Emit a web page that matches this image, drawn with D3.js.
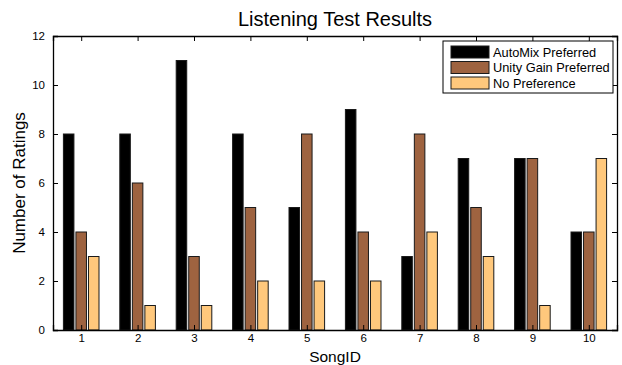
<!DOCTYPE html>
<html>
<head>
<meta charset="utf-8">
<script src="https://cdn.jsdelivr.net/npm/d3@7"></script>
<style>
    body { margin: 0; background: #fff; }
    svg { font-family: "Liberation Sans", Arial, Helvetica, sans-serif; }
</style>
</head>
<body>
<svg id="chart" width="622" height="365"></svg>
<script>
// data
let songs = [1, 2, 3, 4, 5, 6, 7, 8, 9, 10];
let automix = [8, 8, 11, 8, 5, 9, 3, 7, 7, 4];
let unity = [4, 6, 3, 5, 8, 4, 8, 5, 7, 4];
let noPref = [3, 1, 1, 2, 2, 2, 4, 3, 1, 7];
let seriesNames = ["AutoMix Preferred", "Unity Gain Preferred", "No Preference"];
let seriesColors = ["#000000", "#9e6340", "#ffc87c"];
let yTicks = [0, 2, 4, 6, 8, 10, 12];

let margin = { top: 36, right: 5, bottom: 35, left: 53 };

let svg = d3.select("#chart");
let width = +svg.attr("width") - margin.left - margin.right;
let height = +svg.attr("height") - margin.top - margin.bottom;
let g = svg.append("g").attr("transform", `translate(${margin.left}, ${margin.top})`);

let x = d3.scaleLinear().domain([0.5, 10.5]).range([0, width]);
let y = d3.scaleLinear().domain([0, 12]).range([height, 0]);

let series = [automix, unity, noPref];
let step = 2 / 9;           // spacing between bars in a group, in x units
let barW = x(step * 0.84) - x(0);

series.forEach((vals, si) => {
    g.selectAll(".bar" + si)
        .data(vals)
        .enter().append("rect")
            .attr("class", "bar" + si)
            .attr("x", (d, i) => x(songs[i] + (si - 1) * step) - barW / 2)
            .attr("y", d => y(d))
            .attr("width", barW)
            .attr("height", d => y(0) - y(d))
            .attr("fill", seriesColors[si])
            .attr("stroke", "#1a1a1a")
            .attr("stroke-width", 1);
});

// axes, ticks pointing inward, box on
let xb = g.append("g")
    .attr("transform", `translate(0, ${height})`)
    .call(d3.axisBottom(x).tickValues(songs).tickSize(-5).tickPadding(4));
let xt = g.append("g")
    .call(d3.axisTop(x).tickValues(songs).tickSize(-5).tickFormat(""));
let yl = g.append("g")
    .call(d3.axisLeft(y).tickValues(yTicks).tickSize(-5).tickPadding(8));
let yr = g.append("g")
    .attr("transform", `translate(${width}, 0)`)
    .call(d3.axisRight(y).tickValues(yTicks).tickSize(-5).tickFormat(""));

[xb, xt, yl, yr].forEach(a => {
    a.select(".domain").attr("stroke", "#000").attr("stroke-width", 1.3);
    a.selectAll(".tick line").attr("stroke", "#000");
    a.selectAll("text")
        .attr("fill", "#000")
        .attr("font-size", "11.5px")
        .attr("font-family", "Liberation Sans, Arial, sans-serif");
});

// title and axis labels
svg.append("text")
    .attr("x", margin.left + width / 2)
    .attr("y", 26)
    .attr("text-anchor", "middle")
    .attr("font-size", "20px")
    .text("Listening Test Results");

svg.append("text")
    .attr("x", margin.left + width / 2)
    .attr("y", 361.5)
    .attr("text-anchor", "middle")
    .attr("font-size", "15.5px")
    .text("SongID");

svg.append("text")
    .attr("transform", `translate(25, ${margin.top + height / 2}) rotate(-90)`)
    .attr("text-anchor", "middle")
    .attr("font-size", "17px")
    .text("Number of Ratings");

// legend
let lg = svg.append("g").attr("transform", "translate(443, 41)");
lg.append("rect")
    .attr("width", 170)
    .attr("height", 52)
    .attr("fill", "#fff")
    .attr("stroke", "#000")
    .attr("stroke-width", 1);

seriesNames.forEach((name, i) => {
    lg.append("rect")
        .attr("x", 8)
        .attr("y", 5 + i * 15.5)
        .attr("width", 38)
        .attr("height", 12)
        .attr("fill", seriesColors[i])
        .attr("stroke", "#1a1a1a");
    lg.append("text")
        .attr("x", 50)
        .attr("y", 15.5 + i * 15.5)
        .attr("font-size", "12.8px")
        .text(name);
});
</script>
</body>
</html>
